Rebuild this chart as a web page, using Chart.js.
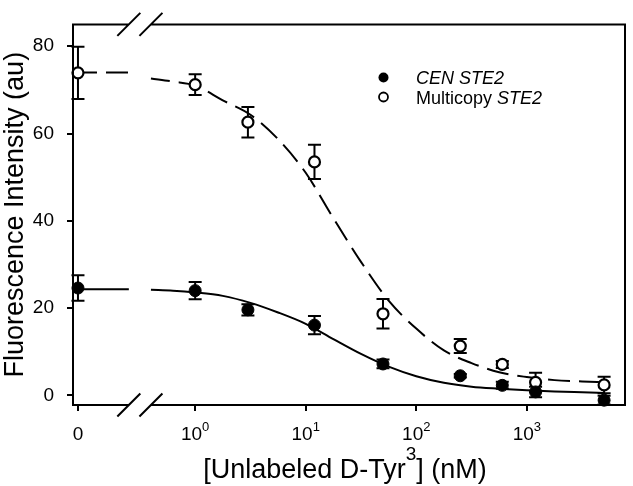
<!DOCTYPE html>
<html>
<head>
<meta charset="utf-8">
<script src="https://cdn.jsdelivr.net/npm/chart.js@4"></script>
<style>
  body { margin: 0; background: #fff; }
</style>
</head>
<body>
<canvas id="myChart" width="633" height="486"></canvas>
<script>
const conc = [0, 1, 3, 12, 50, 250, 600, 1200, 5000];
const cenMean = [24.6, 24.0, 19.6, 16.1, 7.2, 4.5, 2.3, 0.8, -1.1];
const cenErr = [2.9, 2.0, 1.3, 2.1, 1.0, 0.4, 0.8, 1.2, 1.0];
const multiMean = [73.9, 71.2, 62.6, 53.5, 18.7, 11.3, 7.1, 3.0, 2.4];
const multiErr = [6.0, 2.4, 3.5, 3.9, 3.4, 1.6, 0.8, 2.2, 1.9];

// fitted curves, x in log10(nM); the zero point sits left of the break
const fitLogX = [-1.06, -0.6, -0.5, -0.4, -0.2, 0, 0.25, 0.5, 0.75, 1.0, 1.25, 1.5, 1.75, 2.0, 2.25, 2.5, 2.75, 3.0, 3.25, 3.5, 3.7];
const cenFit = [24.3, 24.3, null, 24.2, 24.0, 23.6, 22.8, 21.2, 19.0, 16.4, 12.9, 9.5, 6.6, 4.4, 2.9, 2.0, 1.55, 1.2, 0.9, 0.7, 0.55];
const multiFit = [74.0, 74.0, null, 72.6, 71.9, 71.0, 67.6, 64.3, 58.7, 51.0, 40.6, 30.6, 21.7, 15.3, 10.3, 7.4, 5.3, 4.2, 3.5, 3.2, 3.0];

const xTicks = [-1.06, 0, 1, 2, 3];
const xTickLabels = [["0", ""], ["10", "0"], ["10", "1"], ["10", "2"], ["10", "3"]];
const yTicks = [0, 20, 40, 60, 80];
const ZERO_X = -1.06;
const BREAK = [-0.6, -0.4];

const FONT = "'Liberation Sans', Arial, sans-serif";

function toPoints(xs, ys) {
  return xs.map((x, i) => ({ x: x, y: ys[i] }));
}
const concX = conc.map((c) => (c === 0 ? ZERO_X : Math.log10(c)));

const errorBars = {
  id: "errorBars",
  beforeDatasetsDraw(chart) {
    const { ctx, scales } = chart;
    ctx.save();
    ctx.strokeStyle = "#000";
    ctx.lineWidth = 2;
    chart.data.datasets.forEach((ds) => {
      if (!ds.errors) return;
      ds.data.forEach((p, i) => {
        const e = ds.errors[i];
        const px = scales.x.getPixelForValue(p.x);
        const top = scales.y.getPixelForValue(p.y + e);
        const bot = scales.y.getPixelForValue(p.y - e);
        ctx.beginPath();
        ctx.moveTo(px, top);
        ctx.lineTo(px, bot);
        ctx.moveTo(px - 6.5, top);
        ctx.lineTo(px + 6.5, top);
        ctx.moveTo(px - 6.5, bot);
        ctx.lineTo(px + 6.5, bot);
        ctx.stroke();
      });
    });
    ctx.restore();
  },
};

function drawSup(ctx, parts, x, y, align) {
  // parts: [text, size, rise, italic]
  let total = 0;
  parts.forEach((p) => {
    ctx.font = (p[3] ? "italic " : "") + p[1] + "px " + FONT;
    total += ctx.measureText(p[0]).width;
  });
  let cx = align === "center" ? x - total / 2 : x;
  ctx.textAlign = "left";
  parts.forEach((p) => {
    ctx.font = (p[3] ? "italic " : "") + p[1] + "px " + FONT;
    ctx.fillText(p[0], cx, y - p[2]);
    cx += ctx.measureText(p[0]).width;
  });
}

const decorations = {
  id: "decorations",
  afterDraw(chart) {
    const { ctx, chartArea, scales } = chart;
    const L = chartArea.left, R = chartArea.right, T = chartArea.top, B = chartArea.bottom;
    const b1 = scales.x.getPixelForValue(BREAK[0]);
    const b2 = scales.x.getPixelForValue(BREAK[1]);
    ctx.save();
    ctx.strokeStyle = "#000";
    ctx.lineWidth = 2;
    ctx.beginPath();
    ctx.moveTo(L, T); ctx.lineTo(L, B);
    ctx.moveTo(R, T); ctx.lineTo(R, B);
    [T, B].forEach((y) => {
      ctx.moveTo(L - 1, y); ctx.lineTo(b1, y);
      ctx.moveTo(b2, y); ctx.lineTo(R + 1, y);
      [b1, b2].forEach((bx) => {
        ctx.moveTo(bx - 11.5, y + 11.5);
        ctx.lineTo(bx + 11.5, y - 11.5);
      });
    });
    ctx.stroke();

    ctx.fillStyle = "#000";
    ctx.textBaseline = "alphabetic";
    // x tick labels
    xTicks.forEach((v, i) => {
      const px = scales.x.getPixelForValue(v);
      const lab = xTickLabels[i];
      drawSup(ctx, [[lab[0], 19, 0], [lab[1], 13, 9]], px, 440, "center");
    });
    // x title
    drawSup(ctx, [["[Unlabeled D-Tyr", 27, 0], ["3", 19, 18], ["] (nM)", 27, 0]], 345, 478, "center");
    // y title
    ctx.save();
    ctx.translate(22.5, (T + B) / 2);
    ctx.rotate(-Math.PI / 2);
    ctx.font = "27px " + FONT;
    ctx.textAlign = "center";
    ctx.fillText("Fluorescence Intensity (au)", 0, 0);
    ctx.restore();

    // legend
    ctx.beginPath();
    ctx.arc(383.5, 77.5, 5, 0, Math.PI * 2);
    ctx.fill();
    ctx.beginPath();
    ctx.arc(383.5, 97, 4.5, 0, Math.PI * 2);
    ctx.fillStyle = "#fff";
    ctx.fill();
    ctx.lineWidth = 1.8;
    ctx.stroke();
    ctx.fillStyle = "#000";
    drawSup(ctx, [["CEN STE2", 18, 0, true]], 416, 84, "left");
    drawSup(ctx, [["Multicopy ", 18, 0], ["STE2", 18, 0, true]], 416, 103.5, "left");
    ctx.restore();
  },
};

const ctx = document.getElementById("myChart").getContext("2d");
new Chart(ctx, {
  type: "scatter",
  data: {
    datasets: [
      {
        label: "CEN STE2",
        data: toPoints(concX, cenMean),
        errors: cenErr,
        pointRadius: 6,
        pointBackgroundColor: "#000",
        pointBorderColor: "#000",
        pointBorderWidth: 1,
        showLine: false,
        clip: false,
      },
      {
        label: "Multicopy STE2",
        data: toPoints(concX, multiMean),
        errors: multiErr,
        pointRadius: 5.5,
        pointBackgroundColor: "#fff",
        pointBorderColor: "#000",
        pointBorderWidth: 2.2,
        showLine: false,
        clip: false,
      },
      {
        label: "CEN fit",
        data: toPoints(fitLogX, cenFit),
        showLine: true,
        pointRadius: 0,
        borderColor: "#000",
        borderWidth: 2,
        cubicInterpolationMode: "monotone",
        spanGaps: false,
      },
      {
        label: "Multicopy fit",
        data: toPoints(fitLogX, multiFit),
        showLine: true,
        pointRadius: 0,
        borderColor: "#000",
        borderWidth: 2,
        borderDash: [22, 9],
        borderDashOffset: 3,
        cubicInterpolationMode: "monotone",
        spanGaps: false,
      },
    ],
  },
  options: {
    responsive: false,
    animation: false,
    layout: { padding: { top: 12, right: 8, left: 0, bottom: 0 } },
    plugins: { legend: { display: false }, tooltip: { enabled: false } },
    scales: {
      x: {
        type: "linear",
        min: -1.105,
        max: 3.888,
        afterBuildTicks: (s) => { s.ticks = xTicks.map((v) => ({ value: v })); },
        afterFit: (s) => { s.height = 81; },
        ticks: { display: false },
        grid: { drawOnChartArea: false, drawTicks: true, tickLength: 6, color: "#000", lineWidth: 2 },
        border: { display: false },
      },
      y: {
        type: "linear",
        min: -2.2,
        max: 85,
        afterBuildTicks: (s) => { s.ticks = yTicks.map((v) => ({ value: v })); },
        afterFit: (s) => { s.width = 73; },
        ticks: { color: "#000", padding: 13, font: { family: FONT, size: 19 } },
        grid: { drawOnChartArea: false, drawTicks: true, tickLength: 6, color: "#000", lineWidth: 2 },
        border: { display: false },
      },
    },
  },
  plugins: [errorBars, decorations],
});
</script>
</body>
</html>
